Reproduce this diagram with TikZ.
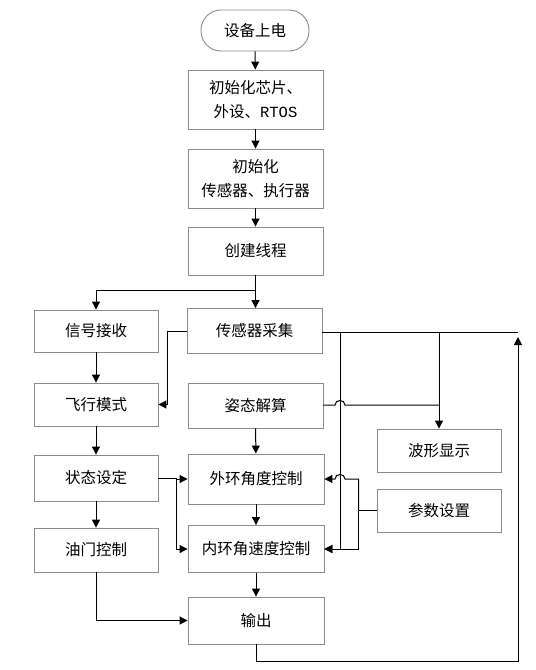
\documentclass[tikz,border=0pt]{standalone}
\usepackage{fontspec}
\newfontfamily\cjk{Noto Sans CJK SC}
\newfontfamily\monof{Liberation Mono}
\usetikzlibrary{arrows.meta}
\definecolor{boxgray}{HTML}{8C8C8C}
\tikzset{
  box/.style={draw=boxgray, line width=0.9pt, fill=white, minimum width=135pt, align=center,
    font=\cjk\fontsize{15.5pt}{24pt}\selectfont, inner sep=0pt},
  lbox/.style={box, minimum width=124pt},
  arr/.style={line width=1pt, -{Triangle[length=8pt,width=8pt]}},
  ln/.style={line width=1pt}
}
\begin{document}
\begin{tikzpicture}[x=1pt,y=-1pt]
\useasboundingbox (0,0) rectangle (536,670);
% nodes
\node[box, minimum width=108pt, minimum height=41pt, rounded corners=20pt] (start) at (255,30.5) {设备上电};
\node[box, minimum height=59pt] (init1) at (255.5,99.5) {初始化芯片、\\外设、{\monof RTOS}};
\node[box, minimum height=59pt] (init2) at (255.5,178.5) {初始化\\传感器、执行器};
\node[box, minimum height=48pt] (thread) at (255.5,251) {创建线程};
\node[lbox, minimum height=42pt] (sig) at (96,331) {信号接收};
\node[box, minimum height=45pt] (sensor) at (254.5,331) {传感器采集};
\node[lbox, minimum height=43pt] (mode) at (96,404.5) {飞行模式};
\node[box, minimum height=45pt] (att) at (255.5,405.5) {姿态解算};
\node[lbox, minimum height=43pt] (wave) at (439,450.5) {波形显示};
\node[lbox, minimum height=46pt] (state) at (96,478) {状态设定};
\node[box, minimum width=136pt, minimum height=50pt] (outer) at (256,479) {外环角度控制};
\node[lbox, minimum height=43pt] (param) at (439,510.5) {参数设置};
\node[lbox, minimum height=44pt] (thr) at (96,550) {油门控制};
\node[box, minimum width=136pt, minimum height=47pt] (inner) at (256,549) {内环角速度控制};
\node[box, minimum width=136pt, minimum height=47pt] (out) at (256,620.5) {输出};
% coordinates
\coordinate (R) at (518,332);
\coordinate (v1) at (340,332);
\coordinate (v2) at (439,332);
% main chain
\draw[arr] (start) -- (init1);
\draw[arr] (init1) -- (init2);
\draw[arr] (init2) -- (thread);
\draw[arr] (thread.south) -- (thread.south |- sensor.north);
\draw[arr] (thread.south) -- ++(0,15) -| (sig.north);
\draw[arr] (sensor.west) -- ++(-19,0) |- (mode.east);
\draw[arr] (sig) -- (mode);
\draw[arr] (mode) -- (state);
\draw[arr] (state) -- (thr);
\draw[ln] (state.east) -- ++(18,0) coordinate (sb);
\draw[arr] (sb) |- (outer.west);
\draw[arr] (sb) |- (inner.west);
\draw[arr] (thr.south) |- (out.west);
\draw[arr] (att) -- (outer);
\draw[arr] (outer) -- (inner);
\draw[arr] (inner) -- (out);
% sensor outputs
\draw[ln] (sensor.east |- R) -- (R);
\draw[arr] (v1) -- (v1 |- inner.east) -- (inner.east);
\draw[arr] (v2) -- (wave.north);
\draw[ln] (att.east |- 0,405) -- (335,405) .. controls (335,399) and (345,399) .. (345,405) -- (439,405);
% parameters
\draw[ln] (param.west) -- ++(-18,0) coordinate (pj);
\draw[arr] (pj) |- (inner.east);
\draw[arr] (pj) -- (pj |- outer.east) -- (345,479) .. controls (345,473) and (335,473) .. (335,479) -- (outer.east);
% loop back
\draw[arr] (out.south) -- ++(0,17) -| (518,337);
\end{tikzpicture}
\end{document}
